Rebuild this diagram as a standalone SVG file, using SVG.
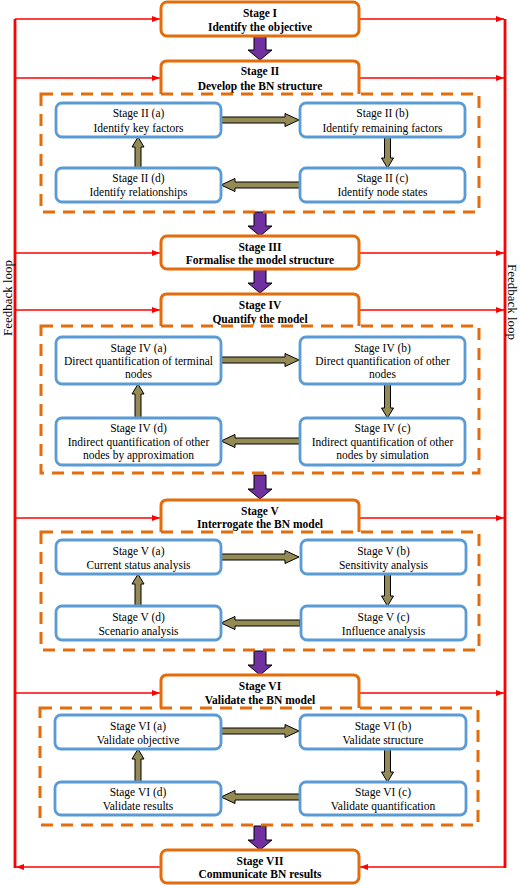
<svg xmlns="http://www.w3.org/2000/svg" width="520" height="885" viewBox="0 0 520 885">
<style>
.stage{fill:#fff;stroke:#E46C0A;stroke-width:3}
.sub{fill:#fff;stroke:#5B9BD5;stroke-width:2.8}
.dash{fill:none;stroke:#E46C0A;stroke-width:3;stroke-dasharray:12 8}
.st{font-family:"Liberation Serif",serif;font-size:11.5px;font-weight:bold;text-anchor:middle;fill:#000}
.sb{font-family:"Liberation Serif",serif;font-size:11.5px;text-anchor:middle;fill:#000}
.fb{font-family:"Liberation Serif",serif;font-size:13px;text-anchor:middle;fill:#000}
.red{stroke:#FF0000;stroke-width:1.6;fill:none}
.redv{stroke:#FF0000;stroke-width:2.8;fill:none}
.pur{fill:#7030A0;stroke:#000;stroke-width:1}
.oli{fill:#948A54;stroke:#000;stroke-width:1}
</style>
<defs>
<marker id="rh" viewBox="0 0 8 6" refX="8" refY="3" markerWidth="8" markerHeight="6" markerUnits="userSpaceOnUse" orient="auto">
<path d="M0,0 L8,3 L0,6 Z" fill="#FF0000"/>
</marker>
<path id="pdown" class="pur" d="M-6,0 L6,0 L6,14 L12,14 L0,24 L-12,14 L-6,14 Z"/>
</defs>

<g id="connectors">
<!-- feedback verticals -->
<line class="redv" x1="15" y1="19" x2="15" y2="868"/>
<line class="redv" x1="505" y1="19" x2="505" y2="868"/>
<!-- left feedback arrows -->
<line class="red" x1="15" y1="19" x2="160" y2="19" marker-end="url(#rh)"/>
<line class="red" x1="15" y1="78" x2="160" y2="78" marker-end="url(#rh)"/>
<line class="red" x1="15" y1="253" x2="160" y2="253" marker-end="url(#rh)"/>
<line class="red" x1="15" y1="310" x2="160" y2="310" marker-end="url(#rh)"/>
<line class="red" x1="15" y1="518" x2="160" y2="518" marker-end="url(#rh)"/>
<line class="red" x1="15" y1="693" x2="160" y2="693" marker-end="url(#rh)"/>
<line class="red" x1="160" y1="867" x2="16" y2="867" marker-end="url(#rh)"/>
<!-- right feedback arrows -->
<line class="red" x1="360" y1="19" x2="504" y2="19" marker-end="url(#rh)"/>
<line class="red" x1="360" y1="78" x2="504" y2="78" marker-end="url(#rh)"/>
<line class="red" x1="360" y1="253" x2="504" y2="253" marker-end="url(#rh)"/>
<line class="red" x1="360" y1="310" x2="504" y2="310" marker-end="url(#rh)"/>
<line class="red" x1="360" y1="518" x2="504" y2="518" marker-end="url(#rh)"/>
<line class="red" x1="360" y1="693" x2="504" y2="693" marker-end="url(#rh)"/>
<line class="red" x1="505" y1="867" x2="360" y2="867" marker-end="url(#rh)"/>
<!-- purple stage arrows -->
<use href="#pdown" x="260" y="36"/>
<use href="#pdown" x="260" y="212"/>
<use href="#pdown" x="260" y="269"/>
<use href="#pdown" x="260" y="475"/>
<use href="#pdown" x="260" y="651"/>
<use href="#pdown" x="260" y="826"/>
<!-- olive arrows stage II -->
<path class="oli" d="M221,117 L285,117 L285,113.5 L299,120 L285,126.5 L285,123 L221,123 Z"/>
<path class="oli" d="M300,182 L235,182 L235,178.5 L221,185 L235,191.5 L235,188 L300,188 Z"/>
<path class="oli" d="M384.5,137 L384.5,158 L381.5,158 L387.5,168 L393.5,158 L390.5,158 L390.5,137 Z"/>
<path class="oli" d="M135,168 L135,147 L132,147 L138,137 L144,147 L141,147 L141,168 Z"/>
<!-- olive arrows stage IV -->
<path class="oli" d="M221,357 L285,357 L285,353.5 L299,360 L285,366.5 L285,363 L221,363 Z"/>
<path class="oli" d="M300,438 L235,438 L235,434.5 L221,441 L235,447.5 L235,444 L300,444 Z"/>
<path class="oli" d="M384.5,384 L384.5,408 L381.5,408 L387.5,418 L393.5,408 L390.5,408 L390.5,384 Z"/>
<path class="oli" d="M135,418 L135,394 L132,394 L138,384 L144,394 L141,394 L141,418 Z"/>
<!-- olive arrows stage V -->
<path class="oli" d="M221,554 L285,554 L285,550.5 L299,557 L285,563.5 L285,560 L221,560 Z"/>
<path class="oli" d="M300,620 L235,620 L235,616.5 L221,623 L235,629.5 L235,626 L300,626 Z"/>
<path class="oli" d="M384.5,574 L384.5,596 L381.5,596 L387.5,606 L393.5,596 L390.5,596 L390.5,574 Z"/>
<path class="oli" d="M135,606 L135,584 L132,584 L138,574 L144,584 L141,584 L141,606 Z"/>
<!-- olive arrows stage VI -->
<path class="oli" d="M221,728 L285,728 L285,724.5 L299,731 L285,737.5 L285,734 L221,734 Z"/>
<path class="oli" d="M300,794 L235,794 L235,790.5 L221,797 L235,803.5 L235,800 L300,800 Z"/>
<path class="oli" d="M384.5,749 L384.5,772 L381.5,772 L387.5,782 L393.5,772 L390.5,772 L390.5,749 Z"/>
<path class="oli" d="M135,782 L135,759 L132,759 L138,749 L144,759 L141,759 L141,782 Z"/>
</g>

<g id="stage1">
<rect class="stage" x="161" y="2" width="198" height="34" rx="6"/>
<text class="st" x="260" y="17">Stage I</text>
<text class="st" x="260" y="31">Identify the objective</text>
</g>
<g id="stage2">
<path class="stage" d="M161,94 L161,67 Q161,61 167,61 L353,61 Q359,61 359,67 L359,94"/>
<text class="st" x="260" y="75">Stage II</text>
<text class="st" x="260" y="90">Develop the BN structure</text>
</g>
<g id="stage3">
<rect class="stage" x="161" y="236" width="198" height="33" rx="6"/>
<text class="st" x="260" y="251">Stage III</text>
<text class="st" x="260" y="264">Formalise the model structure</text>
</g>
<g id="stage4">
<path class="stage" d="M161,326 L161,300 Q161,294 167,294 L353,294 Q359,294 359,300 L359,326"/>
<text class="st" x="260" y="309">Stage IV</text>
<text class="st" x="260" y="323">Quantify the model</text>
</g>
<g id="stage5">
<path class="stage" d="M161,532 L161,506 Q161,500 167,500 L353,500 Q359,500 359,506 L359,532"/>
<text class="st" x="260" y="515">Stage V</text>
<text class="st" x="260" y="528">Interrogate the BN model</text>
</g>
<g id="stage6">
<path class="stage" d="M161,708 L161,681 Q161,675 167,675 L353,675 Q359,675 359,681 L359,708"/>
<text class="st" x="260" y="690">Stage VI</text>
<text class="st" x="260" y="704">Validate the BN model</text>
</g>
<g id="stage7">
<rect class="stage" x="161" y="850" width="198" height="33" rx="6"/>
<text class="st" x="260" y="865">Stage VII</text>
<text class="st" x="260" y="878">Communicate BN results</text>
</g>

<g id="group2"><rect class="dash" x="41" y="94" width="438" height="118"/></g>
<g id="group4"><rect class="dash" x="41" y="326" width="438" height="147"/></g>
<g id="group5"><rect class="dash" x="41" y="532" width="438" height="118"/></g>
<g id="group6"><rect class="dash" x="40" y="708" width="438" height="117"/></g>

<g id="s2a"><rect class="sub" x="56" y="103" width="165" height="34" rx="6"/>
<text class="sb" x="138.5" y="117">Stage II (a)</text><text class="sb" x="138.5" y="132">Identify key factors</text></g>
<g id="s2b"><rect class="sub" x="300" y="103" width="165" height="34" rx="6"/>
<text class="sb" x="382.5" y="117">Stage II (b)</text><text class="sb" x="382.5" y="132">Identify remaining factors</text></g>
<g id="s2c"><rect class="sub" x="300" y="168" width="165" height="34" rx="6"/>
<text class="sb" x="382.5" y="182">Stage II (c)</text><text class="sb" x="382.5" y="196">Identify node states</text></g>
<g id="s2d"><rect class="sub" x="56" y="168" width="165" height="34" rx="6"/>
<text class="sb" x="138.5" y="182">Stage II (d)</text><text class="sb" x="138.5" y="196">Identify relationships</text></g>

<g id="s4a"><rect class="sub" x="56" y="337" width="165" height="47" rx="6"/>
<text class="sb" x="138.5" y="352">Stage IV (a)</text><text class="sb" x="138.5" y="365">Direct quantification of terminal</text><text class="sb" x="138.5" y="378">nodes</text></g>
<g id="s4b"><rect class="sub" x="300" y="337" width="165" height="47" rx="6"/>
<text class="sb" x="382.5" y="352">Stage IV (b)</text><text class="sb" x="382.5" y="365">Direct quantification of other</text><text class="sb" x="382.5" y="378">nodes</text></g>
<g id="s4c"><rect class="sub" x="300" y="418" width="165" height="47" rx="6"/>
<text class="sb" x="382.5" y="432">Stage IV (c)</text><text class="sb" x="382.5" y="446">Indirect quantification of other</text><text class="sb" x="382.5" y="459">nodes by simulation</text></g>
<g id="s4d"><rect class="sub" x="56" y="418" width="165" height="47" rx="6"/>
<text class="sb" x="138.5" y="432">Stage IV (d)</text><text class="sb" x="138.5" y="446">Indirect quantification of other</text><text class="sb" x="138.5" y="459">nodes by approximation</text></g>

<g id="s5a"><rect class="sub" x="56" y="540" width="165" height="34" rx="6"/>
<text class="sb" x="138.5" y="555">Stage V (a)</text><text class="sb" x="138.5" y="569">Current status analysis</text></g>
<g id="s5b"><rect class="sub" x="301" y="540" width="165" height="34" rx="6"/>
<text class="sb" x="383.5" y="555">Stage V (b)</text><text class="sb" x="383.5" y="569">Sensitivity analysis</text></g>
<g id="s5c"><rect class="sub" x="301" y="606" width="165" height="34" rx="6"/>
<text class="sb" x="383.5" y="621">Stage V (c)</text><text class="sb" x="383.5" y="635">Influence analysis</text></g>
<g id="s5d"><rect class="sub" x="56" y="606" width="165" height="34" rx="6"/>
<text class="sb" x="138.5" y="621">Stage V (d)</text><text class="sb" x="138.5" y="635">Scenario analysis</text></g>

<g id="s6a"><rect class="sub" x="55" y="715" width="166" height="34" rx="6"/>
<text class="sb" x="138" y="730">Stage VI (a)</text><text class="sb" x="138" y="744">Validate objective</text></g>
<g id="s6b"><rect class="sub" x="300" y="715" width="166" height="34" rx="6"/>
<text class="sb" x="383" y="730">Stage VI (b)</text><text class="sb" x="383" y="744">Validate structure</text></g>
<g id="s6c"><rect class="sub" x="300" y="782" width="166" height="33" rx="6"/>
<text class="sb" x="383" y="796">Stage VI (c)</text><text class="sb" x="383" y="810">Validate quantification</text></g>
<g id="s6d"><rect class="sub" x="55" y="782" width="166" height="33" rx="6"/>
<text class="sb" x="138" y="796">Stage VI (d)</text><text class="sb" x="138" y="810">Validate results</text></g>

<g id="labels">
<text class="fb" transform="translate(12,298) rotate(-90)">Feedback loop</text>
<text class="fb" transform="translate(508,302) rotate(90)">Feedback loop</text>
</g>
</svg>
